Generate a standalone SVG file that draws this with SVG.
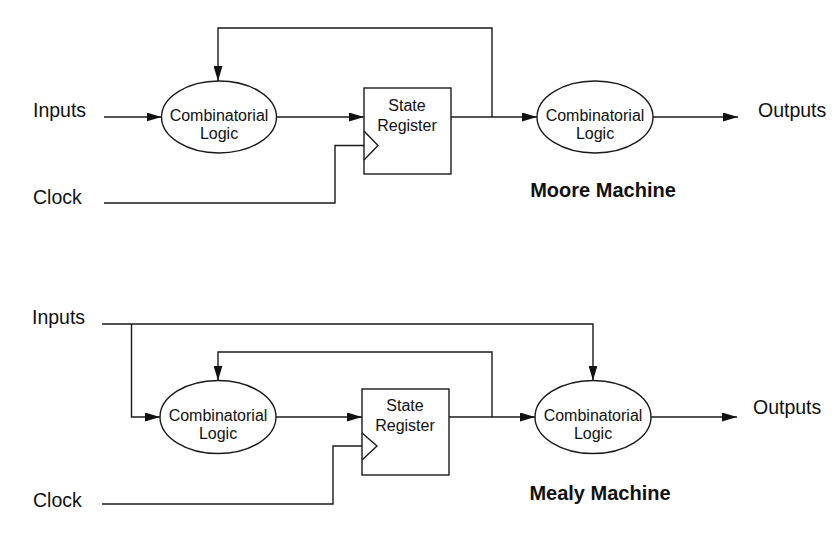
<svg xmlns="http://www.w3.org/2000/svg" width="835" height="549" viewBox="0 0 835 549">
<style>
.ln{fill:none;stroke:#1a1a1a;stroke-width:1.4}
.sh{fill:#fff;stroke:#1a1a1a;stroke-width:1.4}
.t{font-family:"Liberation Sans",Arial,sans-serif;fill:#111}
.lb{font-size:19.5px}
.nd{font-size:16px;text-anchor:middle}
.ti{font-size:20px;font-weight:bold;text-anchor:middle}
</style>
<defs>
<marker id="ar" markerUnits="userSpaceOnUse" markerWidth="15" markerHeight="9" refX="15" refY="4.5" orient="auto">
<path d="M0,0 L15,4.5 L0,9 z" fill="#111"/>
</marker>
</defs>
<rect width="835" height="549" fill="#fff"/>
<g id="connectors">
<!-- Moore -->
<path class="ln" d="M104,117 H161.5" marker-end="url(#ar)"/>
<path class="ln" d="M276.5,117 H364" marker-end="url(#ar)"/>
<path class="ln" d="M451,117 H537" marker-end="url(#ar)"/>
<path class="ln" d="M653,117 H738" marker-end="url(#ar)"/>
<path class="ln" d="M492,117 V28 H218 V81" marker-end="url(#ar)"/>
<path class="ln" d="M104,203 H335 V145.5 H364"/>
<!-- Mealy -->
<path class="ln" d="M102,324 H593 V380.5" marker-end="url(#ar)"/>
<path class="ln" d="M131.5,324 V417 H160" marker-end="url(#ar)"/>
<path class="ln" d="M276,417 H362" marker-end="url(#ar)"/>
<path class="ln" d="M449,417 H535" marker-end="url(#ar)"/>
<path class="ln" d="M651,417 H737" marker-end="url(#ar)"/>
<path class="ln" d="M492,417 V352 H218 V380.5" marker-end="url(#ar)"/>
<path class="ln" d="M102,504 H333 V446 H362"/>
</g>
<g id="moore-inputs"><text class="t lb" x="33" y="117">Inputs</text></g>
<g id="moore-clock"><text class="t lb" x="33" y="204">Clock</text></g>
<g id="moore-logic1">
<ellipse class="sh" cx="219" cy="117" rx="57.5" ry="36"/>
<text class="t nd" x="219" y="121">Combinatorial</text>
<text class="t nd" x="219" y="139">Logic</text>
</g>
<g id="moore-register">
<rect class="sh" x="364" y="88" width="87" height="86"/>
<polyline class="ln" points="364,131 378,145.5 364,160"/>
<text class="t nd" x="407" y="111">State</text>
<text class="t nd" x="407" y="131">Register</text>
</g>
<g id="moore-logic2">
<ellipse class="sh" cx="595" cy="117" rx="58" ry="36"/>
<text class="t nd" x="595" y="121">Combinatorial</text>
<text class="t nd" x="595" y="139">Logic</text>
</g>
<g id="moore-outputs"><text class="t lb" x="758" y="117">Outputs</text></g>
<g id="moore-title"><text class="t ti" x="603" y="197">Moore Machine</text></g>

<g id="mealy-inputs"><text class="t lb" x="32" y="324">Inputs</text></g>
<g id="mealy-clock"><text class="t lb" x="33" y="507">Clock</text></g>
<g id="mealy-logic1">
<ellipse class="sh" cx="218" cy="417" rx="58" ry="36.5"/>
<text class="t nd" x="218" y="421">Combinatorial</text>
<text class="t nd" x="218" y="439">Logic</text>
</g>
<g id="mealy-register">
<rect class="sh" x="362" y="389" width="87" height="86"/>
<polyline class="ln" points="362,433 377,446 362,460"/>
<text class="t nd" x="405" y="411">State</text>
<text class="t nd" x="405" y="431">Register</text>
</g>
<g id="mealy-logic2">
<ellipse class="sh" cx="593" cy="417" rx="58" ry="36.5"/>
<text class="t nd" x="593" y="421">Combinatorial</text>
<text class="t nd" x="593" y="439">Logic</text>
</g>
<g id="mealy-outputs"><text class="t lb" x="753" y="414">Outputs</text></g>
<g id="mealy-title"><text class="t ti" x="600" y="500">Mealy Machine</text></g>
</svg>
